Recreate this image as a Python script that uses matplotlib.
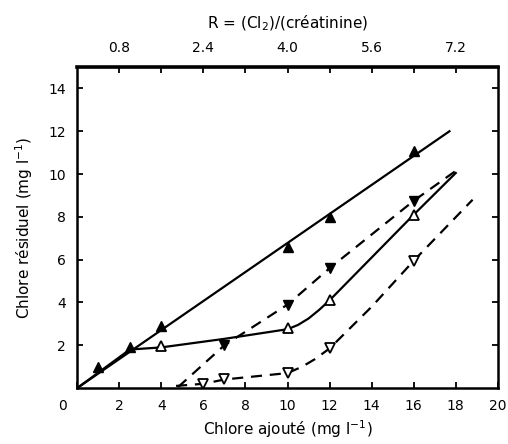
import numpy as np
import matplotlib
matplotlib.use("Agg")
import matplotlib.pyplot as plt
import matplotlib.transforms as mtrans

# donnees lues sur la figure
# serie A : triangles pleins, trait plein
xa = [1, 2.5, 4, 10, 12, 16]
ya = [1.0, 1.9, 2.9, 6.6, 8.0, 11.1]
xa_line = [0, 17.7]
ya_line = [0, 12.0]

# serie B : triangles vides, trait plein
xb = [4, 10, 12, 16]
yb = [1.95, 2.8, 4.1, 8.1]
xb_line = [0, 2.5, 4, 7, 10, 10.5, 11, 11.5, 12, 14, 16, 18]
yb_line = [0, 1.8, 1.9, 2.3, 2.75, 2.95, 3.25, 3.65, 4.1, 6.1, 8.1, 10.05]

# serie C : triangles pleins vers le bas, tirets
xc = [7, 10, 12, 16]
yc = [2.0, 3.9, 5.6, 8.75]
xc_line = [4.8, 7, 10, 12, 16, 18]
yc_line = [0.05, 2.0, 3.9, 5.6, 8.75, 10.15]

# serie D : triangles vides vers le bas, tirets
xd = [6, 7, 10, 12, 16]
yd = [0.2, 0.4, 0.7, 1.85, 5.95]
xd_line = [4.7, 6, 7, 10, 10.7, 11.3, 12, 14, 16, 18.8]
yd_line = [0.1, 0.2, 0.4, 0.7, 1.0, 1.35, 1.85, 3.8, 5.95, 8.8]

xticks = np.arange(0, 21, 2)
yticks = np.arange(2, 15, 2)
r_ticks = [0.8, 1.6, 2.4, 3.2, 4.0, 4.8, 5.6, 6.4, 7.2]
r_labels = ["0.8", "", "2.4", "", "4.0", "", "5.6", "", "7.2"]

plt.rcParams['font.family'] = ['DejaVu Sans']
fig = plt.figure(figsize=(5.08, 4.44), dpi=100)
ax = fig.add_axes([0.152, 0.126, 0.828, 0.723])

ax.plot(xa_line, ya_line, color='black', lw=1.6)
ax.plot(xa, ya, linestyle='none', marker='^', ms=6.5, color='black')

ax.plot(xb_line, yb_line, color='black', lw=1.6)
ax.plot(xb, yb, linestyle='none', marker='^', ms=6.5, mfc='white', mec='black', mew=1.3)

ax.plot(xc_line, yc_line, color='black', lw=1.6, dashes=(5, 3.5))
ax.plot(xc, yc, linestyle='none', marker='v', ms=6.5, color='black')

ax.plot(xd_line, yd_line, color='black', lw=1.6, dashes=(5, 3.5))
ax.plot(xd, yd, linestyle='none', marker='v', ms=6.5, mfc='white', mec='black', mew=1.3)

ax.set_xlim(0, 20)
ax.set_ylim(0, 15)
ax.set_xticks(xticks)
ax.set_yticks(yticks)
ax.tick_params(direction='in', length=4, width=1.3, labelsize=10, right=True, pad=8)
for s in ax.spines.values():
    s.set_linewidth(1.8)
ax.spines['top'].set_linewidth(2.6)

# le "0" est decale vers la gauche sur l'original
lab0 = ax.get_xticklabels()[0]
lab0.set_transform(lab0.get_transform() + mtrans.ScaledTranslation(-0.15, 0, fig.dpi_scale_trans))

ax.set_xlabel("Chlore ajouté (mg l$^{-1}$)", fontsize=11, labelpad=4)
ax.set_ylabel("Chlore résiduel (mg l$^{-1}$)", fontsize=11, labelpad=10)

sec = ax.secondary_xaxis('top', functions=(lambda x: x * 0.4, lambda r: r / 0.4))
sec.set_xticks(r_ticks)
sec.set_xticklabels(r_labels)
sec.tick_params(direction='in', length=4, width=1.3, labelsize=10, pad=9)
sec.set_xlabel("R = (Cl$_2$)/(créatinine)", fontsize=11, labelpad=9)

fig.savefig("out.png", dpi=100)
